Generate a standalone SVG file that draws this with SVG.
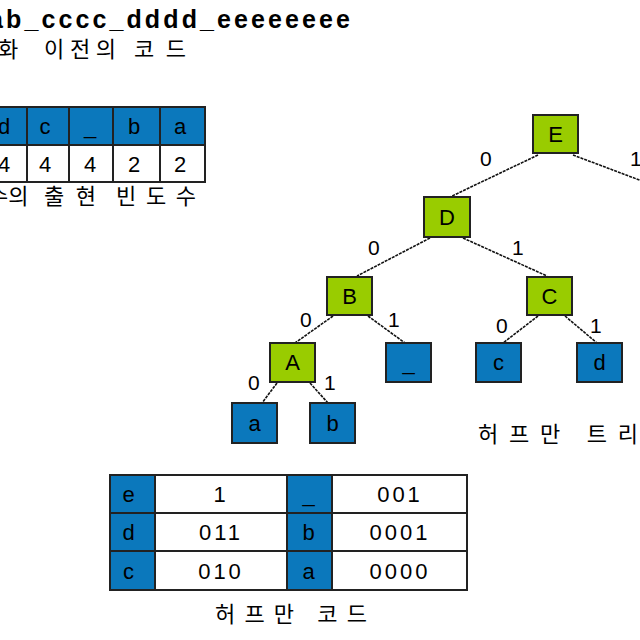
<svg xmlns="http://www.w3.org/2000/svg" width="640" height="640" viewBox="0 0 640 640">
<style>
text{font-family:"Liberation Sans","Noto Sans CJK KR",sans-serif;fill:#000}
.k{font-family:"Noto Sans CJK KR","Liberation Sans",sans-serif;font-size:22px}
.g{fill:#99cc00;stroke:#222;stroke-width:2}
.b{fill:#0b78bc;stroke:#222;stroke-width:2}
.w{fill:#fff;stroke:#222;stroke-width:2}
.n{font-size:22px;text-anchor:middle}
.l{font-size:20px;text-anchor:middle;transform-box:fill-box}
.e line{stroke:#111;stroke-width:1.6;stroke-dasharray:3 1}
</style>
<rect width="640" height="640" fill="#fff"/>
<text x="-28" y="28" font-family="Liberation Mono" font-weight="bold" font-size="25" textLength="378" lengthAdjust="spacing">aab_cccc_dddd_eeeeeeee</text>
<text class="k" x="-2" y="57">화</text>
<text class="k" x="44" y="57" textLength="72">이전의</text>
<text class="k" x="134" y="57" textLength="52">코드</text>
<g id="freq">
<rect class="b" x="-10" y="107" width="37" height="38"/><rect class="b" x="27" y="107" width="42" height="38"/><rect class="b" x="69" y="107" width="44" height="38"/><rect class="b" x="113" y="107" width="47" height="38"/><rect class="b" x="160" y="107" width="45" height="38"/>
<rect class="w" x="-10" y="145" width="37" height="37"/><rect class="w" x="27" y="145" width="42" height="37"/><rect class="w" x="69" y="145" width="44" height="37"/><rect class="w" x="113" y="145" width="47" height="37"/><rect class="w" x="160" y="145" width="45" height="37"/>
<g class="n"><text x="4" y="134" text-anchor="middle" font-size="22">d</text><text x="45" y="134" text-anchor="middle" font-size="22">c</text><text x="90" y="134" text-anchor="middle" font-size="22">_</text><text x="134" y="134" text-anchor="middle" font-size="22">b</text><text x="180" y="134" text-anchor="middle" font-size="22">a</text>
<text x="4" y="172" text-anchor="middle" font-size="22">4</text><text x="45" y="172" text-anchor="middle" font-size="22">4</text><text x="90" y="172" text-anchor="middle" font-size="22">4</text><text x="134" y="172" text-anchor="middle" font-size="22">2</text><text x="180" y="172" text-anchor="middle" font-size="22">2</text></g>
</g>
<text class="k" x="-12" y="204">수의</text>
<text class="k" x="44" y="204" textLength="52">출현</text>
<text class="k" x="116" y="204" textLength="80">빈도수</text>
<g id="edges" class="e">
<line x1="538" y1="155" x2="450" y2="197"/><line x1="573" y1="155" x2="642" y2="181"/>
<line x1="430" y1="238" x2="357" y2="276"/><line x1="463" y1="238" x2="547" y2="276"/>
<line x1="333" y1="316" x2="295" y2="343"/><line x1="368" y1="316" x2="405" y2="343"/>
<line x1="538" y1="316" x2="503" y2="343"/><line x1="565" y1="316" x2="597" y2="343"/>
<line x1="277" y1="383" x2="262" y2="403"/><line x1="310" y1="383" x2="328" y2="403"/>
</g>
<g font-size="21">
<text x="480" y="166">0</text><text x="630" y="166">1</text>
<text x="368" y="255">0</text><text x="512" y="255">1</text>
<text x="300" y="327">0</text><text x="388" y="327">1</text>
<text x="496" y="333">0</text><text x="590" y="333">1</text>
<text x="248" y="390">0</text><text x="324" y="390">1</text>
</g>
<g id="E"><rect class="g" x="533" y="115" width="45" height="38"/><text class="n" x="555.5" y="142">E</text></g>
<g id="D"><rect class="g" x="424" y="197" width="46" height="40"/><text class="n" x="447" y="225">D</text></g>
<g id="B"><rect class="g" x="327" y="277" width="45" height="38"/><text class="n" x="349.5" y="304">B</text></g>
<g id="C"><rect class="g" x="527" y="277" width="45" height="38"/><text class="n" x="549.5" y="304">C</text></g>
<g id="A"><rect class="g" x="270" y="343" width="45" height="39"/><text class="n" x="292.5" y="370">A</text></g>
<g id="us"><rect class="b" x="386" y="343" width="45" height="39"/><text class="n" x="408.5" y="370">_</text></g>
<g id="c"><rect class="b" x="476" y="343" width="45" height="39"/><text class="n" x="498.5" y="370">c</text></g>
<g id="d"><rect class="b" x="577" y="343" width="45" height="39"/><text class="n" x="599.5" y="370">d</text></g>
<g id="a"><rect class="b" x="232" y="403" width="45" height="40"/><text class="n" x="254.5" y="431">a</text></g>
<g id="b"><rect class="b" x="310" y="403" width="45" height="40"/><text class="n" x="332.5" y="431">b</text></g>
<text class="k" x="478" y="442" textLength="160">허프만 트리</text>
<g id="codes">
<rect class="b" x="110" y="475" width="45" height="38"/><rect class="w" x="155" y="475" width="132" height="38"/><rect class="b" x="287" y="475" width="45" height="38"/><rect class="w" x="332" y="475" width="135" height="38"/>
<rect class="b" x="110" y="513" width="45" height="38"/><rect class="w" x="155" y="513" width="132" height="38"/><rect class="b" x="287" y="513" width="45" height="38"/><rect class="w" x="332" y="513" width="135" height="38"/>
<rect class="b" x="110" y="551" width="45" height="39"/><rect class="w" x="155" y="551" width="132" height="39"/><rect class="b" x="287" y="551" width="45" height="39"/><rect class="w" x="332" y="551" width="135" height="39"/>
<g font-size="22" text-anchor="middle" letter-spacing="3">
<text x="130" y="502">e</text><text x="221" y="502">1</text><text x="310" y="502">_</text><text x="400" y="502">001</text>
<text x="130" y="540">d</text><text x="221" y="540">011</text><text x="310" y="540">b</text><text x="400" y="540">0001</text>
<text x="130" y="579">c</text><text x="221" y="579">010</text><text x="310" y="579">a</text><text x="400" y="579">0000</text>
</g>
</g>
<text class="k" x="215" y="622" font-size="24" textLength="152">허프만 코드</text>
</svg>
